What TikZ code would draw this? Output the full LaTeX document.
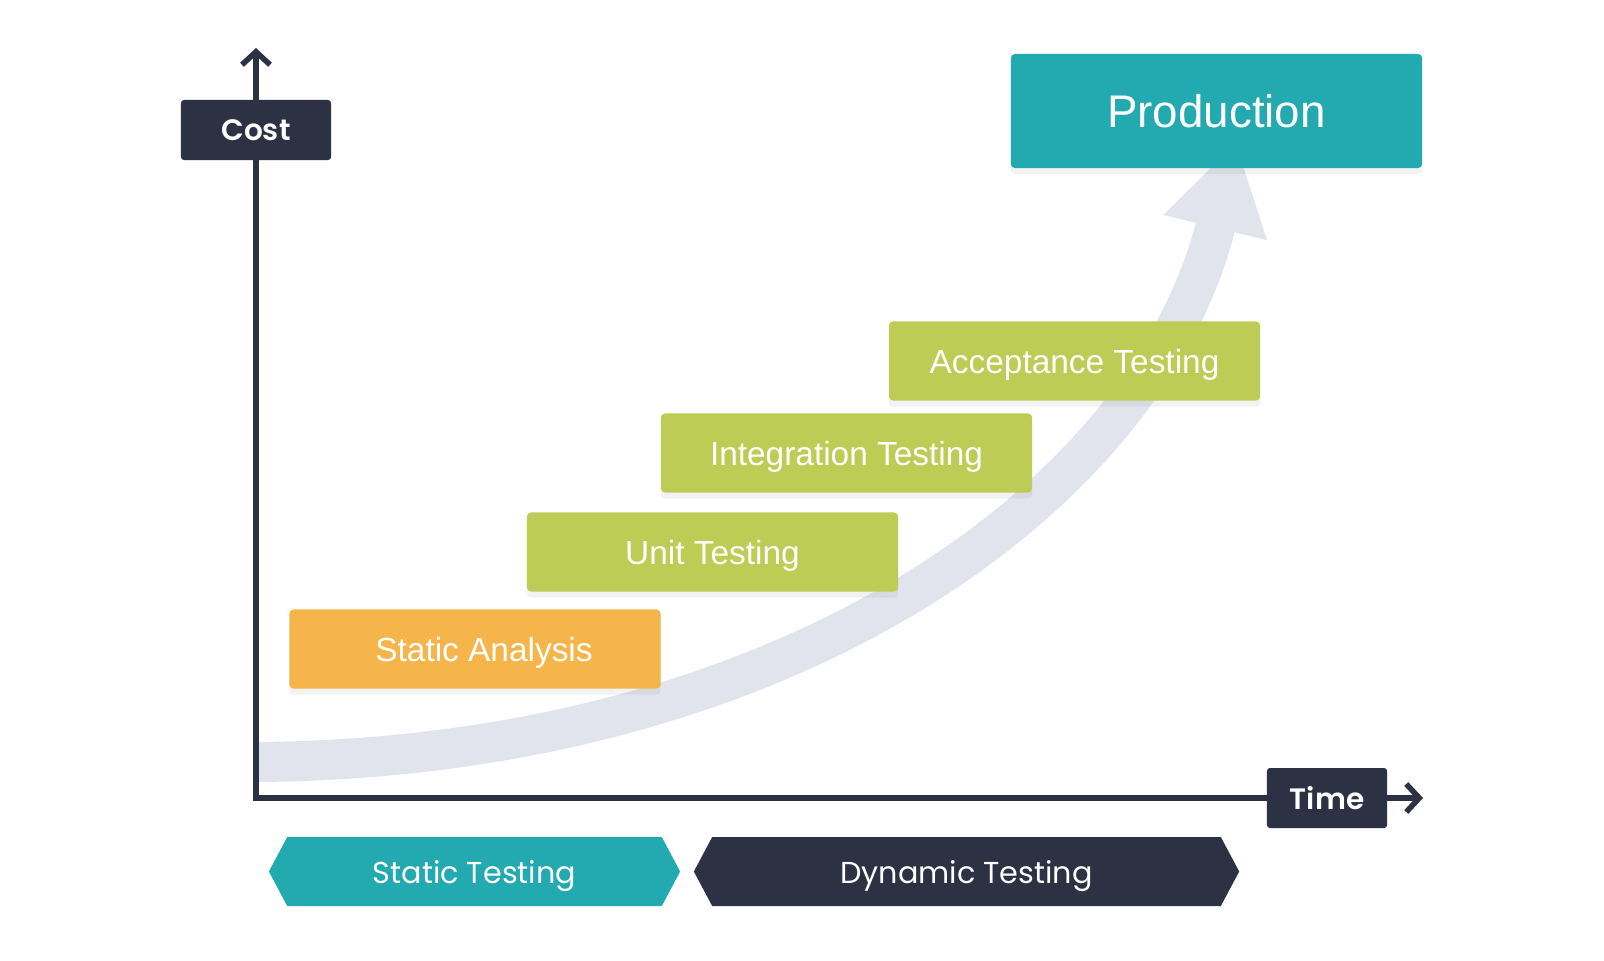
\documentclass[tikz,border=0pt]{standalone}
\usepackage{fontspec}
\setmainfont{Liberation Sans}
\newfontfamily\geofont{Poppins}
\newfontfamily\geosemi{Poppins SemiBold}
\usetikzlibrary{arrows.meta, positioning, shapes.symbols, shadows}

\definecolor{navy}{HTML}{2C3243}
\definecolor{tealc}{HTML}{22AAB0}
\definecolor{limec}{HTML}{BCCC55}
\definecolor{amberc}{HTML}{F5B54B}
\definecolor{bandc}{HTML}{E1E4EC}

\tikzset{
  stage/.style={rectangle, rounded corners=0.04cm, fill=limec, text=white,
    minimum width=3.71cm, minimum height=0.79cm, text depth=0pt,
    font=\fontsize{9.5}{11}\selectfont,
    drop shadow={opacity=0.1, shadow xshift=0cm, shadow yshift=-0.06cm}},
  tag/.style={rectangle, rounded corners=0.03cm, fill=navy, text=white,
    minimum height=0.6cm, text depth=0pt,
    font=\geosemi\fontsize{8.4}{10}\selectfont},
  phase/.style={signal, signal to=west and east, signal pointer angle=124,
    minimum height=0.69cm, text=white, inner sep=0pt, text depth=0pt,
    font=\geofont\fontsize{8.6}{10}\selectfont},
  axis/.style={draw=navy, line width=0.055cm},
  band arrow/.style={draw=bandc, line width=0.4cm,
    -{Triangle[length=0.88cm, width=1.0cm]}}
}

\begin{document}
\begin{tikzpicture}[x=0.01cm, y=-0.01cm]
  \useasboundingbox (0,0) rectangle (1604,960);
  % cost curve
  \coordinate (bandstart) at (256,762);
  \coordinate (bandtip) at (1236,142);
  \draw[band arrow] (bandstart) .. controls (790,758) and (1150,495) .. (bandtip);
  % axes
  \coordinate (origin) at (256,798);
  \coordinate (ytop) at (256,48);
  \coordinate (xend) at (1423,798);
  \draw[axis, {Straight Barb[length=0.13cm, width=0.28cm]}-{Straight Barb[length=0.13cm, width=0.28cm]}]
    (ytop) -- (origin) -- (xend);
  \node[tag, minimum width=1.5cm] (cost) at (256,130) {Cost};
  \node[tag, minimum width=1.2cm] (time) at (1327,798) {Time};
  % stages
  \node[stage, fill=amberc] (static) at (475,649) {\hspace*{0.18cm}Static Analysis};
  \node[stage] (unit) at (712.5,552) {Unit Testing};
  \node[stage] (integ) at (846.5,453) {Integration Testing};
  \node[stage] (accept) at (1074.5,361) {Acceptance Testing};
  \node[stage, fill=tealc, minimum width=4.11cm, minimum height=1.14cm,
    font=\fontsize{13}{15}\selectfont] (prod) at (1216.5,111) {Production};
  % phases
  \node[phase, fill=tealc, minimum width=4.11cm] (statictest) at (474.5,871.5) {Static Testing};
  \node[phase, fill=navy, minimum width=5.45cm] (dyntest) at (966.5,871.5) {Dynamic Testing};
\end{tikzpicture}
\end{document}
